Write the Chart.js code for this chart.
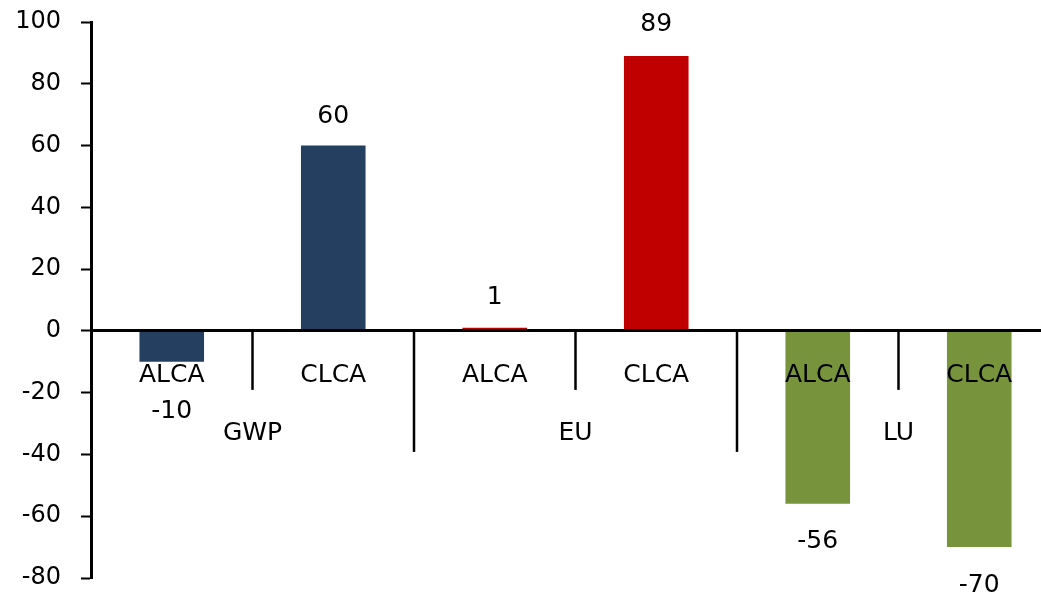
<!DOCTYPE html>
<html>
<head>
<meta charset="utf-8">
<script src="https://cdn.jsdelivr.net/npm/chart.js@4.4.1/dist/chart.umd.min.js"></script>
<style>
  html, body { margin: 0; padding: 0; background: #fff; overflow: hidden; }
  #wrap { width: 1060px; height: 596px; }
</style>
</head>
<body>
<div id="wrap"><canvas id="lcaChart" width="1060" height="596"></canvas></div>
<script>
const methods = ['ALCA', 'CLCA', 'ALCA', 'CLCA', 'ALCA', 'CLCA'];
const groups = ['GWP', 'EU', 'LU'];
const values = [-10, 60, 1, 89, -56, -70];
const barColors = ['#243F60', '#243F60', '#C00000', '#C00000', '#77933C', '#77933C'];
const yMin = -80;
const yMax = 100;
const yStep = 20;

// extra distance of each value label beyond the bar end
const labelGap = [50, 29, 30, 31, 38, 38];

const FONT = "'DejaVu Sans', sans-serif";

// separators between categories + group names under the axis
const axisDecor = {
  id: 'axisDecor',
  afterDraw(chart) {
    const { ctx } = chart;
    const x = chart.scales.x;
    const y0 = chart.scales.y.getPixelForValue(0);
    const per = methods.length / groups.length;

    ctx.save();
    ctx.strokeStyle = '#000';
    ctx.lineWidth = 2.5;
    for (let i = 1; i <= methods.length; i++) {
      const px = x.getPixelForValue(i - 0.5);
      const len = i % per === 0 ? 121 : 59;
      ctx.beginPath();
      ctx.moveTo(px, y0);
      ctx.lineTo(px, y0 + len);
      ctx.stroke();
    }

    ctx.fillStyle = '#000';
    ctx.font = '25px ' + FONT;
    ctx.textAlign = 'center';
    ctx.textBaseline = 'middle';
    groups.forEach((g, gi) => {
      const a = x.getPixelForValue(gi * per - 0.5);
      const b = x.getPixelForValue((gi + 1) * per - 0.5);
      ctx.fillText(g, (a + b) / 2, y0 + 103);
    });

    // value labels outside the bar ends
    const meta = chart.getDatasetMeta(0);
    meta.data.forEach((bar, i) => {
      const v = values[i];
      const ly = v >= 0 ? bar.y - labelGap[i] : bar.y + labelGap[i];
      ctx.fillText(String(v), bar.x, ly);
    });
    ctx.restore();
  }
};

new Chart(document.getElementById('lcaChart'), {
  type: 'bar',
  data: {
    labels: methods,
    datasets: [
      {
        data: values,
        backgroundColor: barColors,
        borderWidth: 0,
        barPercentage: 0.4,
        categoryPercentage: 1,
      },
    ],
  },
  options: {
    responsive: false,
    animation: false,
    devicePixelRatio: 1,
    layout: {
      padding: { top: 22, bottom: 18, left: 0, right: 0 },
    },
    scales: {
      x: {
        position: { y: 0 },
        offset: true,
        afterFit: (scale) => {
          scale.height = 0;
          scale.paddingTop = 0;
          scale.paddingBottom = 0;
        },
        grid: { display: false },
        border: { display: true, color: '#000', width: 3, z: 1 },
        ticks: {
          z: 1,
          color: '#000',
          padding: 22,
          maxRotation: 0,
          autoSkip: false,
          font: { size: 25, family: FONT },
        },
      },
      y: {
        min: yMin,
        max: yMax,
        afterFit: (scale) => {
          scale.width = 91;
          scale.paddingTop = 0;
          scale.paddingBottom = 0;
        },
        grid: {
          drawOnChartArea: false,
          drawTicks: true,
          tickLength: 10,
          tickColor: '#000',
          tickWidth: 2,
        },
        border: { display: true, color: '#000', width: 3 },
        ticks: {
          stepSize: yStep,
          color: '#000',
          padding: 20,
          font: { size: 24, family: FONT },
        },
      },
    },
    plugins: {
      legend: { display: false },
      tooltip: { enabled: false },
    },
  },
  plugins: [axisDecor],
});
</script>
</body>
</html>
